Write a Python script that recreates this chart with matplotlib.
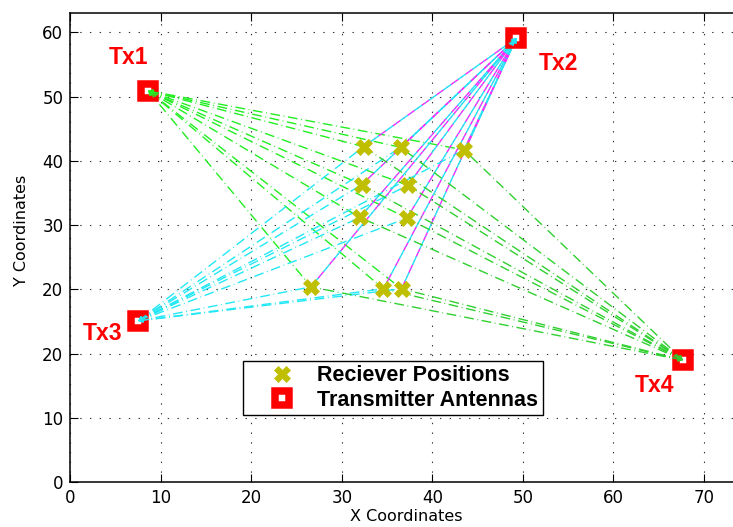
import matplotlib
matplotlib.use("Agg")
import matplotlib.pyplot as plt
from matplotlib.lines import Line2D
import numpy as np

# ---- data (underlying axis coordinates) ----
rx_x = [32.4, 36.5, 43.5, 32.2, 37.3, 32.0, 37.2, 26.6, 34.6, 36.6]
rx_y = [52.2, 52.1, 51.7, 46.3, 46.2, 41.2, 41.1, 30.4, 30.1, 30.1]
tx_names = ["Tx1", "Tx2", "Tx3", "Tx4"]
tx_x = [8.6, 49.3, 7.5, 67.7]
tx_y = [60.9, 69.1, 25.1, 19.0]
tx_label_x = [6.4, 53.9, 3.6, 64.6]
tx_label_y = [66.1, 65.1, 23.1, 15.0]
x_ticks = [0, 10, 20, 30, 40, 50, 60, 70]
y_ticks = [0, 10, 20, 30, 40, 50, 60, 70]
y_tick_labels = ["0", "10", "20", "20", "30", "40", "50", "60"]
legend_labels = ["Reciever Positions", "Transmitter Antennas"]

link_colors = {
    "Tx1": ["#22ee22"],
    "Tx2": ["#ff22ff", "#22e4f2"],
    "Tx3": ["#22e8f5"],
    "Tx4": ["#2fd02f"],
}

plt.rcParams['lines.scale_dashes'] = False

fig = plt.figure(figsize=(7.33, 5.27), dpi=100)
ax = fig.add_axes([70.3 / 733, 44.7 / 527, 678.75 / 733, 469.0 / 527])
ax.set_xlim(0, 75)
ax.set_ylim(0, 72.95)

pattern = (7, 2.6, 0.6, 2.6)
# links, drawn from transmitter towards each receiver
for name, tx, ty in zip(tx_names, tx_x, tx_y):
    cols = link_colors[name]
    for k, c in enumerate(cols):
        for rx, ry in zip(rx_x, rx_y):
            ax.plot([tx, rx], [ty, ry], color=c, lw=1.0,
                    ls=(k * 6.4, pattern), zorder=2)
    # arrowheads at transmitter end
    c = cols[-1]
    for rx, ry in zip(rx_x, rx_y):
        d = np.array([tx - rx, ty - ry])
        d = d / np.hypot(*d)
        ax.annotate("", xy=(tx, ty), xytext=(tx - 1.2 * d[0], ty - 1.2 * d[1]),
                    arrowprops=dict(arrowstyle="-|>", color=c, lw=0.6,
                                    mutation_scale=7, shrinkA=0, shrinkB=0),
                    zorder=4)

rec_color = "#bfbf00"
ax.plot(rx_x, rx_y, ls="none", marker="X", ms=12, color=rec_color,
        mec=rec_color, mew=0.5, zorder=3)
ax.plot(tx_x, tx_y, ls="none", marker="s", ms=9.7, mfc="white", mec="red",
        mew=5.4, zorder=3)

for name, lx, ly in zip(tx_names, tx_label_x, tx_label_y):
    ax.text(lx, ly, name, color="red", fontsize=16.5, fontweight="bold",
            family="Liberation Sans", ha="center", va="center", zorder=5)

ax.set_xticks(x_ticks)
ax.set_yticks(y_ticks)
ax.set_yticklabels(y_tick_labels)
ax.tick_params(direction="in", length=6, width=0.8, top=True, right=True,
               labelsize=12, pad=5)
ax.grid(True, color="#333333", lw=0.8, ls=(0, (1, 6)))
ax.set_axisbelow(True)
for sp in ax.spines.values():
    sp.set_linewidth(1.1)

ax.set_xlabel("X Coordinates", fontsize=11.5, va="center")
ax.set_ylabel("Y Coordinates", fontsize=11.5, va="center")
ax.xaxis.set_label_coords(0.4946, -0.0719)
ax.yaxis.set_label_coords(-0.0716, 0.537)

handles = [
    Line2D([], [], ls="none", marker="X", ms=12, color=rec_color, mec=rec_color, mew=0.5),
    Line2D([], [], ls="none", marker="s", ms=9.7, mfc="white", mec="red", mew=5.4),
]
leg = ax.legend(handles, legend_labels, loc="upper left",
                bbox_to_anchor=(0.2544, 0.2586), borderaxespad=0,
                prop={"family": "Liberation Sans", "weight": "bold", "size": 15.5},
                frameon=True, fancybox=False, framealpha=1, edgecolor="black",
                handlelength=3.2, handletextpad=0.05, borderpad=0.2,
                labelspacing=0.15)
leg.get_frame().set_linewidth(1.0)

fig.savefig("out.png", dpi=100)
